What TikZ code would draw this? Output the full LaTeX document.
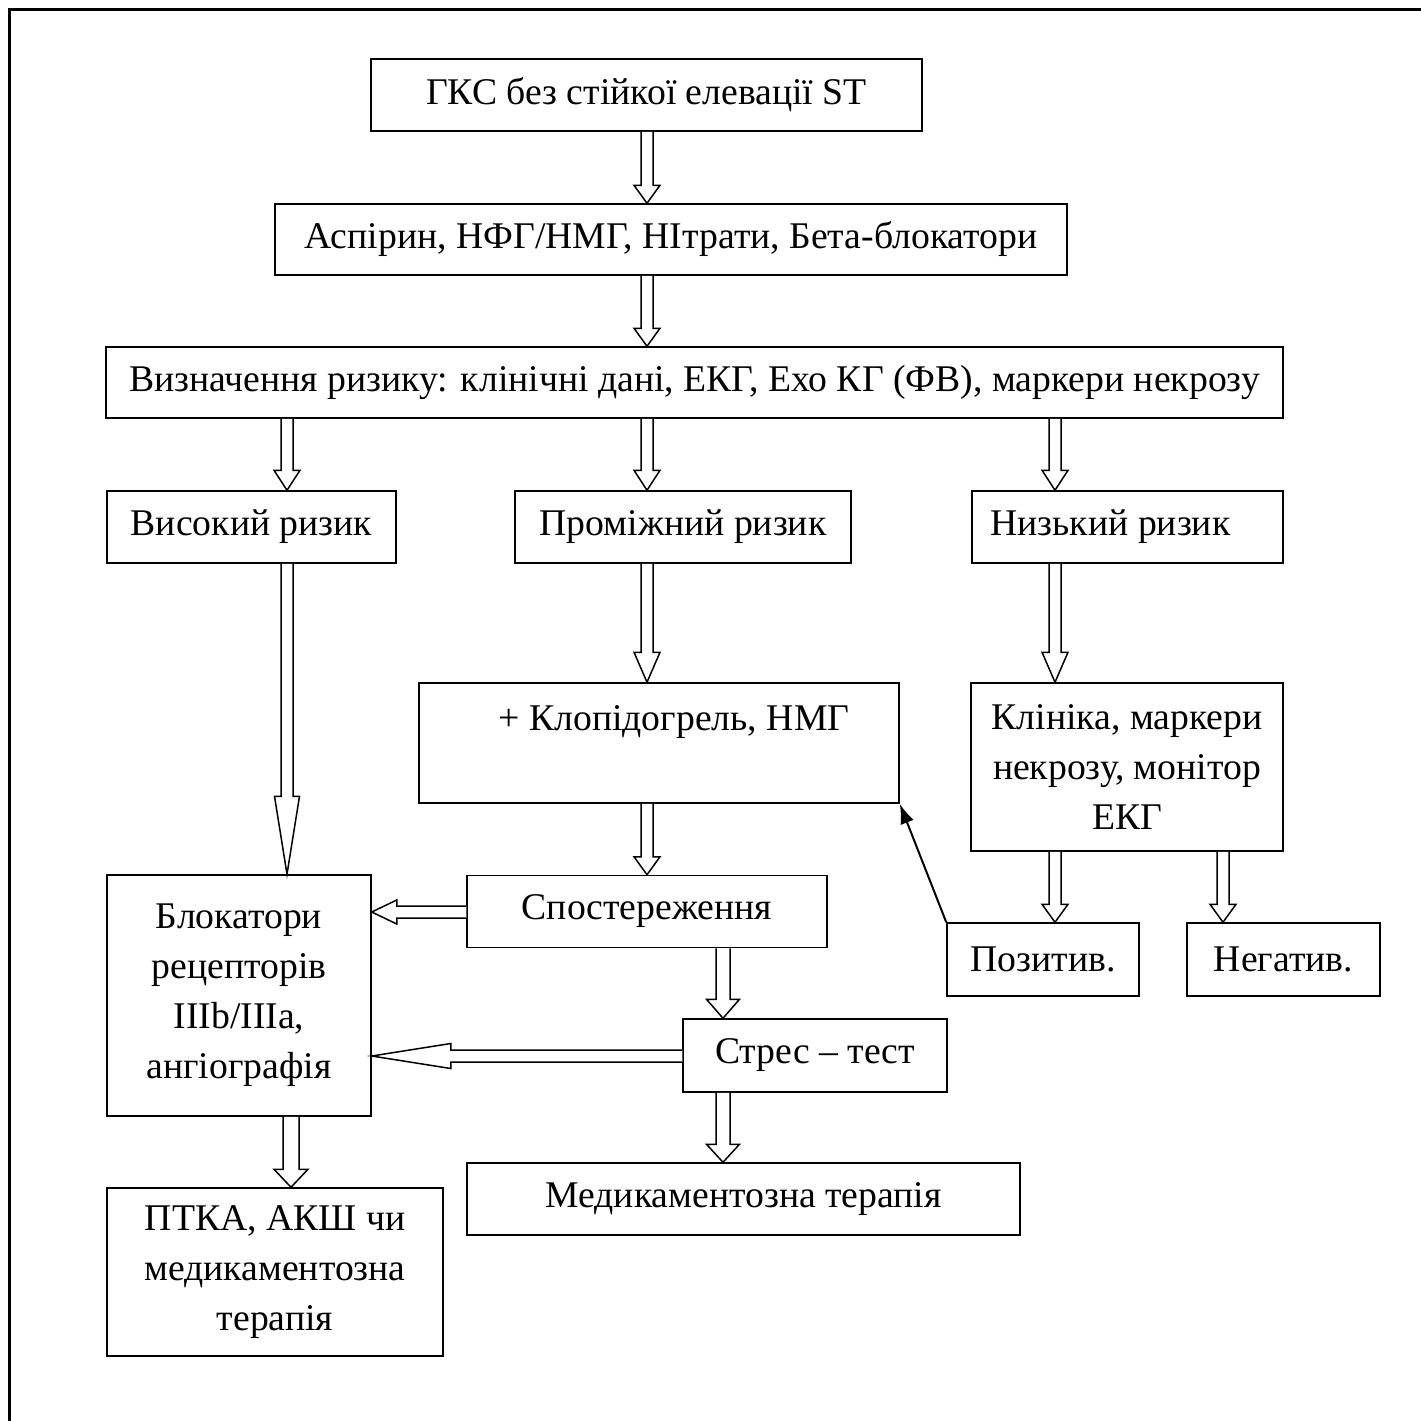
\documentclass[tikz,border=0pt]{standalone}
\usepackage{fontspec}
\setmainfont{Liberation Serif}
\usetikzlibrary{calc,arrows.meta}

\tikzset{
  blk/.style={draw, line width=1.5pt, inner sep=0pt, align=center,
    font=\fontsize{37.7}{50}\selectfont},
  fat/.style={draw, line width=1.5pt, fill=white, line join=miter},
  thin/.style={line width=2pt, -{Latex[length=20pt,width=14pt]}}
}

% hollow block arrows: x (or y), from, to, head length, head half, shaft half
\newcommand{\vfat}[6]{%
  \draw[fat] let \p1=(#2.south), \p2=(#3.north) in
    (#1-#6,\y1) -- (#1-#6,\y2+#4) -- (#1-#5,\y2+#4) -- (#1,\y2)
    -- (#1+#5,\y2+#4) -- (#1+#6,\y2+#4) -- (#1+#6,\y1);}
\newcommand{\hfat}[6]{%
  \draw[fat] let \p1=(#2.west), \p2=(#3.east) in
    (\x1,#1-#6) -- (\x2+#4,#1-#6) -- (\x2+#4,#1-#5) -- (\x2,#1)
    -- (\x2+#4,#1+#5) -- (\x2+#4,#1+#6) -- (\x1,#1+#6);}

\begin{document}
\begin{tikzpicture}[x=1pt,y=-1pt]
\useasboundingbox (0,0) rectangle (1421,1421);
% outer frame
\draw[line width=3pt] (1421,10) -- (9.5,10) -- (9.5,1421);

% boxes
\node[blk, minimum width=551pt, minimum height=72pt] (acs) at (646.5,95) {ГКС без стійкої елевації ST};
\node[blk, minimum width=792pt, minimum height=71pt] (drugs) at (671,239.5) {Аспірин, НФГ/НМГ, НІтрати, Бета-блокатори};
\node[blk, minimum width=1177pt, minimum height=71pt] (risk) at (694.5,382.5) {Визначення ризику: клінічні дані, ЕКГ, Ехо КГ (ФВ), маркери некрозу};
\node[blk, minimum width=289pt, minimum height=72pt] (high) at (251.5,527) {Високий ризик};
\node[blk, minimum width=336pt, minimum height=72pt] (mid) at (683,527) {Проміжний ризик};
\node[blk, minimum width=311pt, minimum height=72pt] (low) at (1127.5,527) {Низький ризик\hspace*{34pt}};
\node[blk, minimum width=480pt, minimum height=120pt] (clop) at (659,743) {\hspace*{30pt}+ Клопідогрель, НМГ\\\mbox{}};
\node[blk, minimum width=312pt, minimum height=168pt] (clin) at (1127,767) {Клініка, маркери\\некрозу, монітор\\ЕКГ};
\node[blk, minimum width=264pt, minimum height=241pt] (gp) at (239,995.5) {Блокатори\\рецепторів\\IIIb/IIIa,\\ангіографія};
\node[blk, minimum width=360pt, minimum height=72pt] (obs) at (647,911.5) {Спостереження};
\node[blk, minimum width=192pt, minimum height=73pt] (pos) at (1043,959.5) {Позитив.};
\node[blk, minimum width=193pt, minimum height=73pt] (neg) at (1283.5,959.5) {Негатив.};
\node[blk, minimum width=264pt, minimum height=73pt] (stress) at (815,1055.5) {Стрес – тест};
\node[blk, minimum width=553pt, minimum height=72pt] (med) at (743.5,1199) {Медикаментозна терапія};
\node[blk, minimum width=336pt, minimum height=168pt] (pci) at (275,1272) {ПТКА, АКШ чи\\медикаментозна\\терапія};

% block arrows
\vfat{647}{acs}{drugs}{18}{13}{6}
\vfat{647}{drugs}{risk}{18}{13}{6}
\vfat{287}{risk}{high}{20}{13}{6}
\vfat{647}{risk}{mid}{20}{13}{6}
\vfat{1055}{risk}{low}{20}{13}{6}
\vfat{287}{high}{gp}{78}{12.5}{6}
\vfat{647}{mid}{clop}{30}{13}{6}
\vfat{1055}{low}{clin}{30}{13}{6}
\vfat{647}{clop}{obs}{18}{13}{6}
\vfat{723}{obs}{stress}{19}{16.5}{7}
\vfat{723}{stress}{med}{18}{16.5}{7}
\vfat{1055}{clin}{pos}{18}{13}{6}
\vfat{1223}{clin}{neg}{18}{13}{6}
\vfat{291}{gp}{pci}{18}{17}{8}
\hfat{912}{obs}{gp}{25}{12}{6}
\hfat{1056}{stress}{gp}{79}{12.5}{6}

% positive result back to clopidogrel
\draw[thin] (pos.north west) -- (clop.south east);
\end{tikzpicture}
\end{document}
